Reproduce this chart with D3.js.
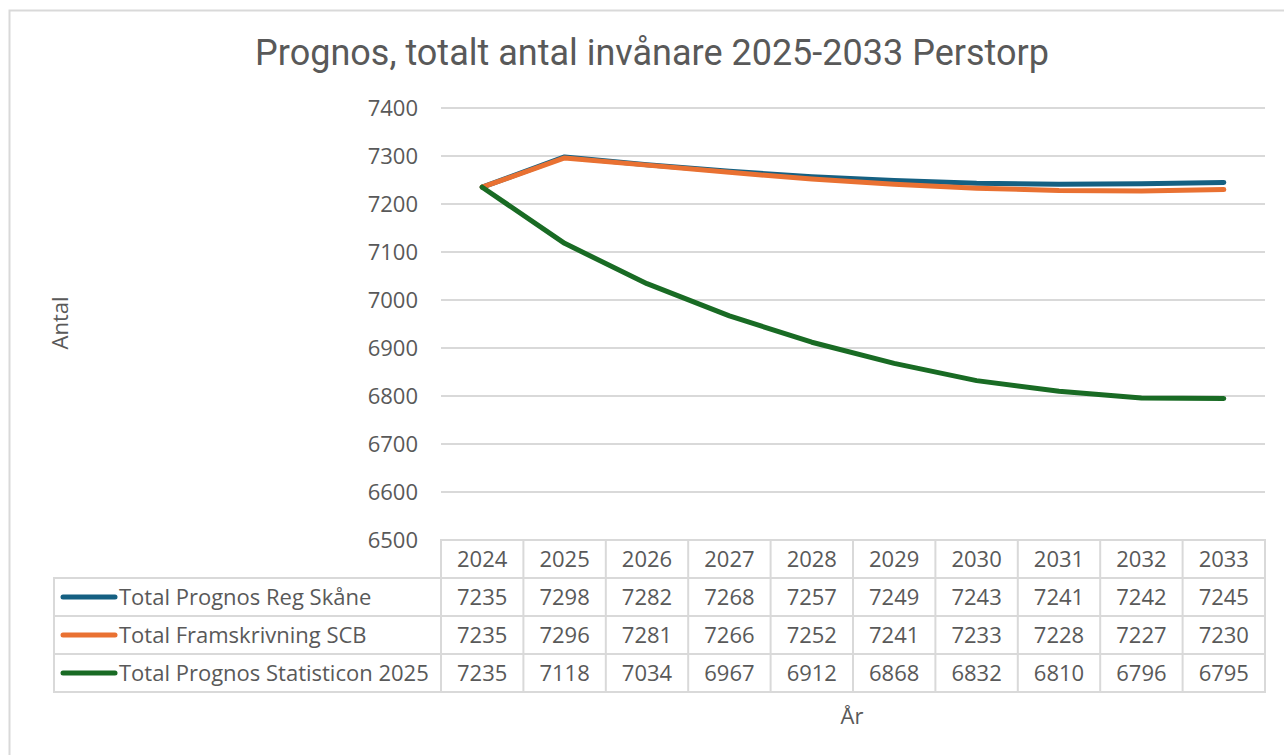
<!DOCTYPE html>
<html>
<head>
<meta charset="utf-8">
<script src="https://cdn.jsdelivr.net/npm/d3@7"></script>
<style>
  body { margin: 0; background: #fff; }
  text { font-family: "Open Sans", Roboto, sans-serif; fill: #595959; }
</style>
</head>
<body>
<svg width="1284" height="755"></svg>
<script>
var years = [2024, 2025, 2026, 2027, 2028, 2029, 2030, 2031, 2032, 2033];
var seriesNames = ["Total Prognos Reg Skåne", "Total Framskrivning SCB", "Total Prognos Statisticon 2025"];
var regSkane = [7235, 7298, 7282, 7268, 7257, 7249, 7243, 7241, 7242, 7245];
var scb = [7235, 7296, 7281, 7266, 7252, 7241, 7233, 7228, 7227, 7230];
var statisticon = [7235, 7118, 7034, 6967, 6912, 6868, 6832, 6810, 6796, 6795];
var yTicks = [6500, 6600, 6700, 6800, 6900, 7000, 7100, 7200, 7300, 7400];
var colors = ["#156082", "#e97132", "#196b24"];

var series = [regSkane, scb, statisticon];

var svg = d3.select("svg"),
  width = +svg.attr("width"),
  height = +svg.attr("height");

// outer chart border
svg.append("path")
  .attr("d", "M9.5," + height + "V10.5H" + width)
  .attr("fill", "none")
  .attr("stroke", "#d9d9d9")
  .attr("stroke-width", 2);

var plotLeft = 441, plotRight = 1265, plotTop = 108, plotBottom = 540;

var x = d3.scaleBand().domain(years).range([plotLeft, plotRight]);
var y = d3.scaleLinear().domain([6500, 7400]).range([plotBottom, plotTop]);

svg.append("text")
  .attr("x", 652)
  .attr("y", 65)
  .attr("text-anchor", "middle")
  .style("font-family", "Roboto, sans-serif")
  .style("font-size", "36px")
  .text("Prognos, totalt antal invånare 2025-2033 Perstorp");

// gridlines
svg.append("g")
  .selectAll("line")
  .data(yTicks.slice(1))
  .enter().append("line")
  .attr("x1", plotLeft)
  .attr("x2", plotRight)
  .attr("y1", function(d) { return y(d); })
  .attr("y2", function(d) { return y(d); })
  .attr("stroke", "#d9d9d9")
  .attr("stroke-width", 2);

var yAxis = svg.append("g")
  .attr("transform", "translate(" + (plotLeft - 23) + ",0)")
  .call(d3.axisLeft(y).tickValues(yTicks).tickFormat(d3.format("d")).tickSize(0).tickPadding(0));
yAxis.select(".domain").remove();
yAxis.selectAll("text")
  .attr("font-family", null)
  .attr("font-size", null)
  .style("font-size", "22px")
  .style("fill", "#595959");

svg.append("text")
  .attr("transform", "translate(68,323) rotate(-90)")
  .attr("text-anchor", "middle")
  .style("font-size", "22px")
  .text("Antal");

svg.append("text")
  .attr("x", 852)
  .attr("y", 724)
  .attr("text-anchor", "middle")
  .style("font-size", "22px")
  .text("År");

// lines
var line = d3.line()
  .x(function(d, i) { return x(years[i]) + x.bandwidth() / 2; })
  .y(function(d) { return y(d); });

svg.append("g")
  .selectAll("path")
  .data(series)
  .enter().append("path")
  .attr("d", line)
  .attr("fill", "none")
  .attr("stroke", function(d, i) { return colors[i]; })
  .attr("stroke-width", 5)
  .attr("stroke-linecap", "round")
  .attr("stroke-linejoin", "round");

// data table
var rowH = 38, headTop = 540, tableLeft = 54;
var tbl = svg.append("g").attr("stroke", "#d9d9d9").attr("stroke-width", 2).attr("fill", "none");

tbl.append("rect")
  .attr("x", plotLeft).attr("y", headTop)
  .attr("width", plotRight - plotLeft).attr("height", rowH * 4);
tbl.append("rect")
  .attr("x", tableLeft).attr("y", headTop + rowH)
  .attr("width", plotRight - tableLeft).attr("height", rowH * 3);
tbl.selectAll(".h")
  .data([1, 2])
  .enter().append("line")
  .attr("x1", tableLeft).attr("x2", plotRight)
  .attr("y1", function(d) { return headTop + rowH * (d + 1); })
  .attr("y2", function(d) { return headTop + rowH * (d + 1); });
tbl.selectAll(".v")
  .data(years.slice(1))
  .enter().append("line")
  .attr("x1", function(d) { return x(d); })
  .attr("x2", function(d) { return x(d); })
  .attr("y1", headTop).attr("y2", headTop + rowH * 4);

svg.append("g")
  .selectAll("text")
  .data(years)
  .enter().append("text")
  .attr("x", function(d) { return x(d) + x.bandwidth() / 2; })
  .attr("y", headTop + rowH / 2 + 8)
  .attr("text-anchor", "middle")
  .style("font-size", "22px")
  .text(function(d) { return d; });

series.forEach(function(s, k) {
  var ry = headTop + rowH * (k + 1);
  svg.append("line")
    .attr("x1", 63).attr("x2", 115)
    .attr("y1", ry + rowH / 2).attr("y2", ry + rowH / 2)
    .attr("stroke", colors[k])
    .attr("stroke-width", 5)
    .attr("stroke-linecap", "round");
  svg.append("text")
    .attr("x", 119)
    .attr("y", ry + rowH / 2 + 8)
    .style("font-size", "22px")
    .text(seriesNames[k]);
  svg.append("g")
    .selectAll("text")
    .data(s)
    .enter().append("text")
    .attr("x", function(d, i) { return x(years[i]) + x.bandwidth() / 2; })
    .attr("y", ry + rowH / 2 + 8)
    .attr("text-anchor", "middle")
    .style("font-size", "22px")
    .text(function(d) { return d; });
});
</script>
</body>
</html>
